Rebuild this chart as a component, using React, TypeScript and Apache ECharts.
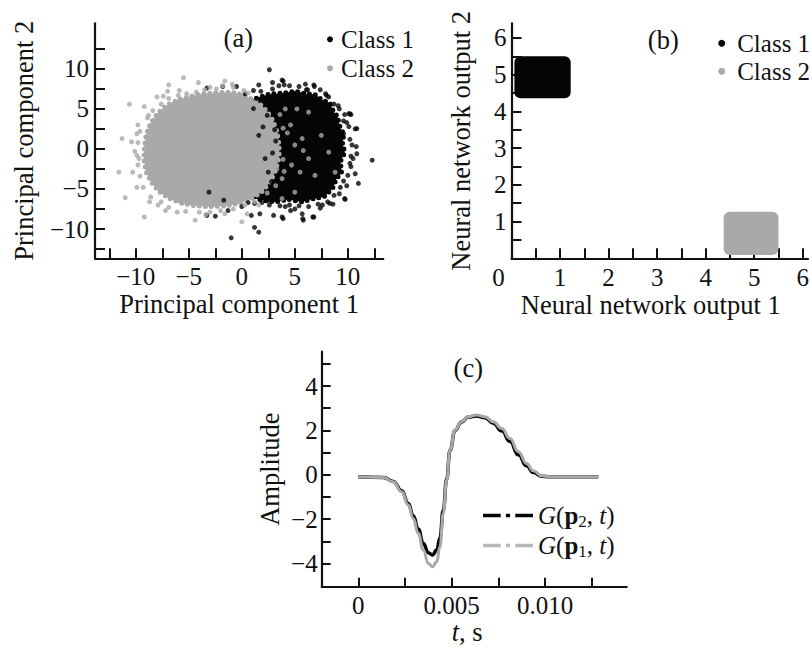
import React, { useEffect, useRef } from 'react';
import * as echarts from 'echarts';

const SERIF = '"Liberation Serif", "Times New Roman", serif';
const INK = '#111111';
const BLACK = '#050505';
const GRAY = '#a9a9a9';
const DASHDOT = 'path://M0,0H17V3.5H0Z M22,0H26V3.5H22Z M31,0H48V3.5H31Z';

// ---------- Panel (a): principal components ----------
const pcaTicks = [-12.5, -10, -7.5, -5, -2.5, 0, 2.5, 5, 7.5, 10, 12.5];
const pcaLabels = [-10, -5, 0, 5, 10];
// dense cores of the two clouds (outline vertices)
const class1Core = [
  [0.9, 3.0], [0.9, 6.0], [2.5, 6.8], [4.0, 7.0], [5.0, 7.2], [6.1, 6.9], [6.9, 6.8], [7.6, 6.1],
  [8.2, 5.8], [8.7, 4.6], [9.0, 4.1], [9.3, 2.6], [9.6, 1.9], [9.5, 0.6], [9.7, -0.4], [9.3, -1.6],
  [9.4, -2.9], [8.9, -3.8], [8.6, -4.8], [7.8, -5.9], [6.8, -6.2], [5.7, -6.6], [4.4, -6.3],
  [3.1, -6.6], [1.3, -6.1], [0.9, -3.0],
];
const class2Core = [
  [-9.2, 0.0], [-9.0, 1.8], [-8.6, 3.2], [-7.9, 4.5], [-7.0, 5.5], [-5.9, 6.2], [-4.7, 6.6],
  [-3.6, 6.9], [-2.5, 7.0], [-1.3, 7.1], [-0.3, 6.9], [0.7, 6.4], [1.6, 5.7], [2.3, 4.8],
  [2.9, 3.6], [3.3, 2.2], [3.5, 0.6], [3.5, -1.0], [3.2, -2.6], [2.7, -4.0], [1.9, -5.3],
  [0.9, -6.2], [-0.3, -6.8], [-1.6, -7.1], [-2.9, -7.2], [-4.3, -7.1], [-5.6, -6.8], [-6.8, -6.2],
  [-7.8, -5.3], [-8.5, -4.2], [-9.0, -2.9], [-9.2, -1.5],
];
// individual points around / inside the cores
const class1Dots = [
  [2.6, 9.9], [3.8, 8.6], [4.0, 8.0], [1.6, 8.0], [1.1, 7.3], [-1.8, 7.8], [-3.3, 7.6], [-0.5, 7.8],
  [6.8, 8.0], [6.2, 7.4], [8.0, 6.7], [8.4, 5.6], [9.7, 4.3], [10.3, 4.3], [10.1, 4.4], [10.7, 2.5],
  [10.8, 0.3], [12.3, -1.4], [11.0, -4.3], [10.7, -3.1], [9.7, -6.2], [8.6, -6.9], [7.4, -7.4],
  [6.8, -8.5], [5.8, -8.9], [5.7, -8.1], [5.0, -7.5], [3.8, -8.5], [3.0, -8.3], [1.7, -8.1],
  [1.2, -9.8], [1.6, -10.4], [-1.0, -11.1], [-2.5, -8.4], [-3.3, -8.3], [-3.1, -5.4], [-1.7, -6.4],
  [-1.3, -7.7], [0.0, -7.2], [0.9, -8.3], [2.5, -6.4], [4.1, -7.2], [4.6, -7.7], [10.5, -1.2],
  [9.6, 1.9], [10.85, -0.6], [9.75, -6.3], [8.3, -6.8], [5.75, -8.7], [6.7, -8.5], [3.9, -8.7],
  [2.9, 8.3], [3.9, 8.5], [6.85, 7.8], [6.1, 7.4], [8.2, 6.5], [8.6, 3.8], [10.2, 4.4], [10.85, 2.55],
  [10.3, -2.2], [9.2, -5.6], [2.0, 2.75], [1.6, 1.7], [2.2, -1.2], [2.5, -2.9], [2.8, -4.1], [1.1, 5.05],
  [3.2, 1.0], [2.9, -0.5], [3.1, 2.4], [3.4, -3.6], [2.4, 4.2], [1.4, 6.3], [0.3, 6.9], [3.6, 5.8],
  [1.8, 7.2], [2.9, 7.5], [3.5, 7.9], [4.5, 7.9], [5.4, 7.8], [6.0, 8.1], [7.4, 7.4], [7.9, 6.9],
  [8.7, 5.6], [9.2, 5.0], [9.6, 3.5], [10.1, 2.8], [10.2, 1.2], [10.4, 0.5], [10.3, -0.9],
  [10.2, -1.8], [10.0, -3.3], [9.6, -4.0], [9.3, -4.8], [8.7, -5.8], [8.1, -6.6], [7.2, -6.9],
  [6.3, -7.2], [5.4, -7.1], [4.5, -7.0], [3.6, -7.1], [2.6, -7.0], [1.9, -6.7], [1.2, -6.8],
  [0.6, -6.7], [9.9, 3.3], [9.1, 5.4], [9.9, -4.6], [7.6, -7.0],
];
const class2Dots = [
  [-5.5, 8.9], [-6.9, 8.0], [-4.1, 8.3], [-1.6, 8.5], [-10.6, 5.6], [-9.2, 5.3], [-8.0, 6.5],
  [-7.4, 6.6], [-8.8, 4.2], [-11.3, 1.3], [-10.4, 0.9], [-9.9, 1.9], [-11.6, -2.9], [-10.3, -2.9],
  [-11.0, -6.1], [-9.2, -8.5], [-7.2, -7.7], [-6.1, -7.9], [-4.4, -8.9], [-5.8, -6.6], [-1.6, -8.1],
  [0.0, -9.1], [0.5, -8.1], [1.6, -7.0], [-0.9, 8.1], [-9.7, -1.2], [-9.9, -4.8], [-8.7, -6.6],
  [-9.8, 3.0], [-7.0, 7.2], [-3.0, 7.7], [-5.9, 7.3], [-3.4, -8.2], [-7.9, -7.0], [-10.1, -0.3],
  [-9.6, 2.2], [-9.8, 0.8], [-9.9, -0.8], [-9.8, -2.0], [-9.6, -3.4], [-9.3, -4.8], [-8.9, 3.9],
  [-8.4, 4.8], [-7.6, 5.6], [-6.9, 6.3], [-6.0, 6.7], [-5.2, 6.9], [-4.3, 7.1], [-3.5, 7.4],
  [-2.4, 7.5], [-1.8, 7.9], [-0.8, 7.7], [0.2, 7.3], [0.6, 7.0], [-8.6, -6.0], [-7.6, -6.6],
  [-6.9, -7.3], [-5.3, -7.8], [-4.0, -7.9], [-3.0, -7.9], [-2.0, -7.7], [-0.8, -7.5], [0.3, -7.0],
  [1.2, -6.6], [3.9, 2.6], [4.0, -2.8], [3.6, 4.3], [3.2, -4.6], [2.4, -5.5],
  [4.6, 3.0], [5.0, 0.5], [5.8, -0.2], [5.7, 1.3], [6.3, -1.2], [4.7, -2.0], [3.8, -3.7], [5.5, -2.9],
  [7.5, 1.7], [6.9, -3.3], [8.2, -0.4], [3.3, 0.0], [5.2, 5.0], [4.1, 5.0], [6.3, 4.6], [8.8, -2.9],
  [3.3, -2.5], [5.0, -5.4], [3.8, -6.2], [4.3, 2.0], [3.9, -1.3],
];

// ---------- Panel (b): neural network outputs ----------
const nnTicks = [0.5, 1, 1.5, 2, 2.5, 3, 3.5, 4, 4.5, 5, 5.5, 6];
const nnXLabels = [0, 1, 2, 3, 4, 5, 6];
const nnYLabels = [1, 2, 3, 4, 5, 6];
// extent of each (dense) cluster: [xMin, yMin, xMax, yMax]
const nnClass1Box = [[0.06, 4.36, 1.22, 5.5]];
const nnClass2Box = [[4.37, 0.09, 5.5, 1.27]];

// ---------- Panel (c): waveforms ----------
const tTicks = [0, 0.0025, 0.005, 0.0075, 0.01, 0.0125];
const tLabels = [0, 0.005, 0.01];
const ampTicks = [-4, -3, -2, -1, 0, 1, 2, 3, 4, 5];
const ampLabels = [-4, -2, 0, 2, 4];
const tSeconds = [
  0, 0.00134, 0.00187, 0.00232, 0.00268, 0.00294, 0.00321, 0.00348, 0.00375, 0.00397, 0.0042,
  0.00437, 0.00455, 0.00473, 0.00491, 0.00518, 0.00553, 0.00589, 0.00634, 0.00678, 0.00723,
  0.00768, 0.00812, 0.00857, 0.00901, 0.00937, 0.00982, 0.01026, 0.01285,
];
const ampP2 = [
  -0.09, -0.12, -0.3, -0.72, -1.3, -1.85, -2.45, -3.1, -3.52, -3.62, -3.4, -2.85, -1.6, -0.2, 1.1,
  2.0, 2.38, 2.6, 2.65, 2.57, 2.32, 1.98, 1.5, 0.9, 0.4, 0.1, -0.07, -0.09, -0.09,
];
const ampP1 = [
  -0.09, -0.12, -0.32, -0.77, -1.37, -1.97, -2.64, -3.4, -4.0, -4.15, -3.92, -3.25, -1.74, -0.24,
  1.11, 2.02, 2.39, 2.62, 2.69, 2.62, 2.39, 2.09, 1.64, 1.04, 0.51, 0.18, -0.05, -0.09, -0.09,
];

const minusFmt = (v: number) => (v < 0 ? '\u2212' + Math.abs(v) : String(v));

function valueAxis(o: any) {
  return {
    type: 'value',
    gridIndex: o.grid,
    min: o.min,
    max: o.max,
    name: o.name,
    nameLocation: 'middle',
    nameGap: o.nameGap,
    nameTextStyle: {
      color: INK,
      fontFamily: SERIF,
      fontSize: 26.5,
      lineHeight: 27,
      padding: o.namePadding || 0,
      rich: o.nameRich,
    },
    axisLine: { show: true, onZero: false, lineStyle: { color: INK, width: 2.2 } },
    axisTick: {
      show: true,
      inside: true,
      length: o.tickLen || 10,
      customValues: o.ticks,
      lineStyle: { color: INK, width: 2 },
    },
    splitLine: { show: false },
    axisLabel: {
      show: true,
      customValues: o.labels,
      color: INK,
      fontFamily: SERIF,
      fontSize: 25,
      lineHeight: 25,
      margin: o.labelMargin,
      formatter: o.formatter || minusFmt,
      rich: o.labelRich,
    },
  };
}

function polygonSeries(name: string, verts: number[][], color: string) {
  return {
    type: 'custom',
    name,
    xAxisIndex: 0,
    yAxisIndex: 0,
    silent: true,
    data: [verts[0]],
    renderItem: (_p: any, api: any) => ({
      type: 'polygon',
      shape: { points: verts.map((v) => api.coord(v)), smooth: 0.15 },
      style: { fill: color, stroke: color, lineWidth: 5, lineDash: [0, 6], lineCap: 'round' },
    }),
  };
}

function boxSeries(name: string, box: number[][], color: string) {
  return {
    type: 'custom',
    name,
    xAxisIndex: 1,
    yAxisIndex: 1,
    silent: true,
    data: box,
    renderItem: (_p: any, api: any) => {
      const tl = api.coord([api.value(0), api.value(3)]);
      const br = api.coord([api.value(2), api.value(1)]);
      return {
        type: 'rect',
        shape: { x: tl[0], y: tl[1], width: br[0] - tl[0], height: br[1] - tl[1], r: 6 },
        style: { fill: color },
      };
    },
  };
}

const legendRich = {
  i: { fontFamily: SERIF, fontSize: 25, fontStyle: 'italic', color: INK },
  b: { fontFamily: SERIF, fontSize: 25, fontWeight: 'bold', color: INK },
  s: { fontFamily: SERIF, fontSize: 17, color: INK, verticalAlign: 'bottom', lineHeight: 17 },
  n: { fontFamily: SERIF, fontSize: 25, color: INK },
};

const panelLabel = (text: string, x: number, y: number) => ({
  type: 'text',
  x,
  y,
  style: {
    text, fontFamily: SERIF, fontSize: 26.5, fill: INK,
    textAlign: 'center', textVerticalAlign: 'middle', verticalAlign: 'middle',
  },
});

function buildOption(): any {
  return {
    animation: false,
    backgroundColor: '#ffffff',
    textStyle: { fontFamily: SERIF, color: INK },
    grid: [
      { left: 95, top: 23.3, width: 288.3, height: 235 },
      { left: 511.5, top: 23.3, width: 300.5, height: 235 },
      { left: 321.7, top: 351.7, width: 305, height: 235 },
    ],
    xAxis: [
      valueAxis({
        grid: 0, min: -13.85, max: 13.35, ticks: pcaTicks, labels: pcaLabels,
        name: 'Principal component 1', nameGap: 30, labelMargin: 6,
      }),
      valueAxis({
        grid: 1, min: 0, max: 6.108, ticks: nnTicks, labels: nnXLabels,
        name: 'Neural network output 1', nameGap: 30, labelMargin: 7, namePadding: [0, 18, 0, 0],
        formatter: (v: number) => (v === 0 ? '{z|0}' : String(v)),
        labelRich: { z: { fontFamily: SERIF, fontSize: 25, color: INK, padding: [0, 26, 0, 0] } },
      }),
      valueAxis({
        grid: 2, min: -0.00196, max: 0.01437, ticks: tTicks, labels: tLabels,
        name: '{i|t}, s', nameGap: 27, labelMargin: 6, namePadding: [0, 14, 0, 0], tickLen: 9,
        nameRich: { i: { fontFamily: SERIF, fontSize: 26.5, fontStyle: 'italic', color: INK } },
        formatter: (v: number) => (v === 0 ? '0' : v.toFixed(3)),
      }),
    ],
    yAxis: [
      valueAxis({
        grid: 0, min: -13.66, max: 15.7, ticks: pcaTicks, labels: pcaLabels,
        name: 'Principal component 2', nameGap: 58, labelMargin: 6,
      }),
      valueAxis({
        grid: 1, min: 0, max: 6.4, ticks: nnTicks, labels: nnYLabels,
        name: 'Neural network output 2', nameGap: 37, labelMargin: 5,
      }),
      valueAxis({
        grid: 2, min: -5.05, max: 5.55, ticks: ampTicks, labels: ampLabels,
        name: 'Amplitude', nameGap: 38, labelMargin: 4, tickLen: 9,
      }),
    ],
    legend: [
      {
        left: 327, top: 24.8, orient: 'vertical', padding: 0, itemGap: 0,
        itemWidth: 6, itemHeight: 6, icon: 'circle', selectedMode: false,
        textStyle: { fontFamily: SERIF, fontSize: 25, lineHeight: 29, color: INK, padding: [0, 0, 0, 3] },
        data: [
          { name: 'Class 1', itemStyle: { color: BLACK } },
          { name: 'Class 2', itemStyle: { color: GRAY } },
        ],
      },
      {
        left: 718.2, top: 29.3, orient: 'vertical', padding: 0, itemGap: 0,
        itemWidth: 7, itemHeight: 7, icon: 'circle', selectedMode: false,
        textStyle: { fontFamily: SERIF, fontSize: 25, lineHeight: 28, color: INK, padding: [0, 0, 0, 7] },
        data: [
          { name: 'Class 1', itemStyle: { color: BLACK } },
          { name: 'Class 2', itemStyle: { color: GRAY } },
        ],
      },
      {
        left: 483, top: 501.5, orient: 'vertical', padding: 0, itemGap: 2,
        itemWidth: 50, itemHeight: 14, selectedMode: false, symbolKeepAspect: true,
        textStyle: { fontFamily: SERIF, fontSize: 25, lineHeight: 28, color: INK, rich: legendRich },
        formatter: (name: string) =>
          name === 'G(p2, t)'
            ? '{i|G}{n|(}{b|p}{s|2}{n|, }{i|t}{n|)}'
            : '{i|G}{n|(}{b|p}{s|1}{n|, }{i|t}{n|)}',
        data: [
          { name: 'G(p2, t)', icon: DASHDOT, itemStyle: { color: BLACK, borderWidth: 0 } },
          { name: 'G(p1, t)', icon: DASHDOT, itemStyle: { color: '#b8b8b8', borderWidth: 0 } },
        ],
      },
    ],
    graphic: [
      panelLabel('(a)', 238.3, 38.3),
      panelLabel('(b)', 663.3, 40),
      panelLabel('(c)', 468.3, 368.3),
    ],
    series: [
      polygonSeries('Class 1', class1Core, BLACK),
      polygonSeries('Class 2', class2Core, GRAY),
      {
        type: 'scatter', name: 'Class 1', xAxisIndex: 0, yAxisIndex: 0, symbolSize: 5,
        itemStyle: { color: BLACK }, data: class1Dots, silent: true,
      },
      {
        type: 'scatter', name: 'Class 2', xAxisIndex: 0, yAxisIndex: 0, symbolSize: 5,
        itemStyle: { color: GRAY }, data: class2Dots, silent: true,
      },
      boxSeries('Class 1', nnClass1Box, BLACK),
      boxSeries('Class 2', nnClass2Box, GRAY),
      {
        type: 'line', name: 'G(p2, t)', xAxisIndex: 2, yAxisIndex: 2, symbol: 'none',
        smooth: 0.5, smoothMonotone: 'x', silent: true,
        lineStyle: { color: BLACK, width: 3.5 },
        data: tSeconds.map((t, i) => [t, ampP2[i]]),
      },
      {
        type: 'line', name: 'G(p1, t)', xAxisIndex: 2, yAxisIndex: 2, symbol: 'none',
        smooth: 0.5, smoothMonotone: 'x', silent: true,
        lineStyle: { color: GRAY, width: 3 },
        data: tSeconds.map((t, i) => [t, ampP1[i]]),
      },
    ],
  };
}

export default function App() {
  const ref = useRef<HTMLDivElement>(null);
  useEffect(() => {
    const chart = echarts.init(ref.current as HTMLDivElement, null, { renderer: 'svg' });
    chart.setOption(buildOption());
    return () => chart.dispose();
  }, []);
  return (
    <div
      ref={ref}
      style={{ position: 'absolute', left: 0, top: 0, width: 812, height: 648, background: '#fff' }}
    />
  );
}
